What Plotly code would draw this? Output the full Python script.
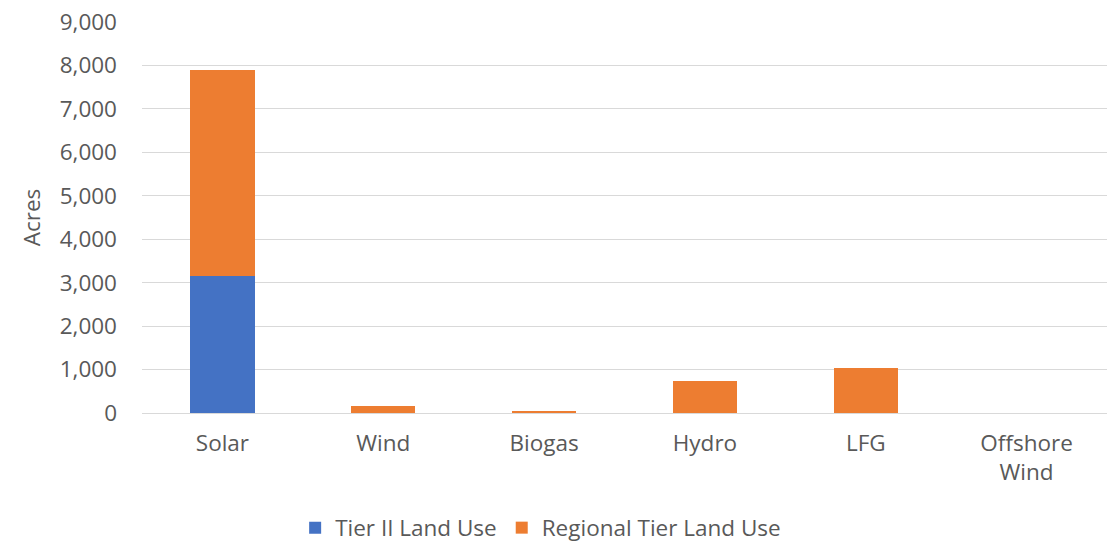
import plotly.graph_objects as go

categories = ["Solar", "Wind", "Biogas", "Hydro", "LFG", "Offshore<br>Wind"]
tier2_land_use = [3160, 0, 0, 0, 0, 0]
regional_land_use = [4740, 150, 30, 745, 1025, 0]
y_ticks = [0, 1000, 2000, 3000, 4000, 5000, 6000, 7000, 8000, 9000]

FONT = "Open Sans"
GREY = "#595959"
FS = 22.5

fig = go.Figure()
fig.add_trace(go.Bar(x=categories, y=tier2_land_use, name="Tier II Land Use",
                     marker=dict(color="#4472C4", line=dict(width=0))))
fig.add_trace(go.Bar(x=categories, y=regional_land_use, name="Regional Tier Land Use",
                     marker=dict(color="#ED7D31", line=dict(width=0))))

fig.update_layout(
    width=1112, height=535,
    barmode="stack", bargap=0.6,
    plot_bgcolor="white", paper_bgcolor="white",
    margin=dict(l=134, r=13, t=14, b=130),
    font=dict(family=FONT, size=FS, color=GREY),
    showlegend=True,
    legend=dict(orientation="h", xref="container", x=0.479, xanchor="center",
                yref="container", y=0.028, yanchor="middle",
                font=dict(size=FS, color=GREY), itemsizing="constant",
                traceorder="normal", itemwidth=30),
    xaxis=dict(showgrid=False, showline=False, ticks="", automargin=False,
               ticklabelstandoff=14, tickfont=dict(size=FS, color=GREY)),
    yaxis=dict(range=[0, 9000], tickvals=y_ticks, tickformat=",d", automargin=False,
               ticklabeloverflow="allow",
               showgrid=True, gridcolor="#D9D9D9", gridwidth=1,
               zeroline=True, zerolinecolor="#D9D9D9", zerolinewidth=1,
               showline=False, ticks="", ticklabelstandoff=24,
               tickfont=dict(size=FS, color=GREY),
               title=dict(text="Acres", font=dict(size=FS, color=GREY), standoff=12)),
)

fig.write_html("out.html")
